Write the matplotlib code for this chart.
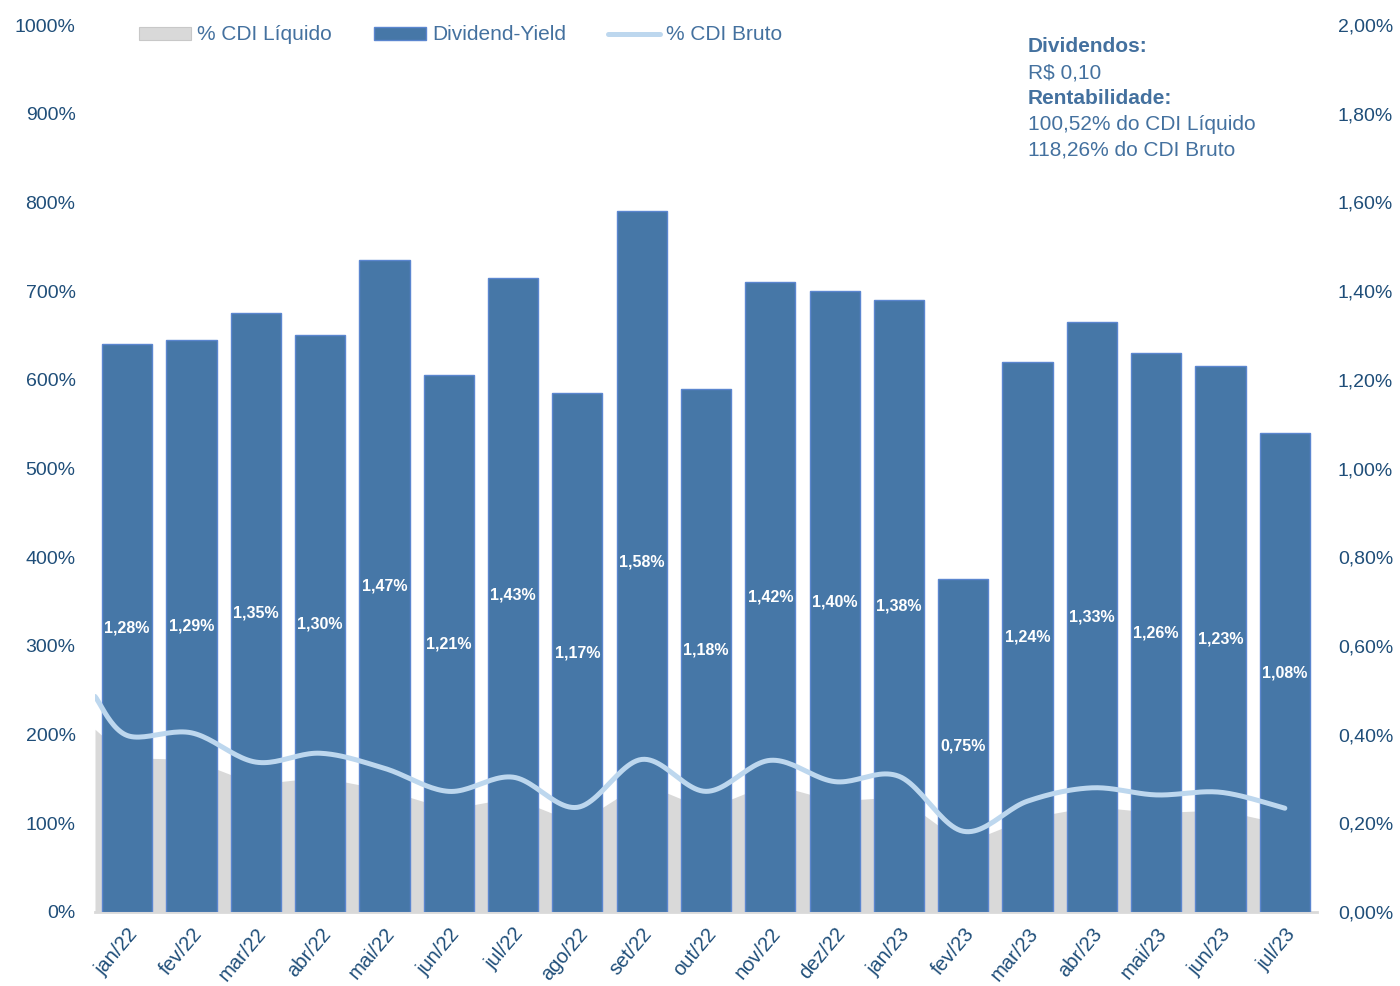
import numpy as np
import matplotlib.pyplot as plt
from matplotlib.patches import Patch
from matplotlib.lines import Line2D

plt.rcParams['font.family'] = ['Liberation Sans', 'DejaVu Sans']

# dados
meses = ['jan/22', 'fev/22', 'mar/22', 'abr/22', 'mai/22', 'jun/22', 'jul/22',
         'ago/22', 'set/22', 'out/22', 'nov/22', 'dez/22', 'jan/23', 'fev/23',
         'mar/23', 'abr/23', 'mai/23', 'jun/23', 'jul/23']
dividend_yield = [1.28, 1.29, 1.35, 1.30, 1.47, 1.21, 1.43, 1.17, 1.58, 1.18,
                  1.42, 1.40, 1.38, 0.75, 1.24, 1.33, 1.26, 1.23, 1.08]
cdi_bruto = [199, 202, 169, 179, 162, 136, 152, 118, 172, 136,
             171, 147, 153, 91, 125, 140, 132, 135, 117]
cdi_bruto_inicio = 243
cdi_liquido = [174, 172, 144, 152, 138, 116, 129, 100, 146, 116,
               145, 125, 130, 77, 106, 119, 112, 115, 99]
cdi_liquido_inicio = 206

cor_barra = '#4677A7'
cor_borda = '#5B86CF'
cor_area = '#D9D9D9'
cor_linha = '#BDD7EE'
cor_tick = '#1F4E79'
cor_texto = '#44719F'


def suavizar(x, y, n=24):
    # curva suave tipo Excel (bezier com tangentes catmull-rom)
    p = np.column_stack([x, y]).astype(float)
    p = np.vstack([p[0], p, p[-1]])
    out = []
    for i in range(1, len(p) - 2):
        p0, p1, p2, p3 = p[i - 1], p[i], p[i + 1], p[i + 2]
        c1 = p1 + (p2 - p0) / 6
        c2 = p2 - (p3 - p1) / 6
        t = np.linspace(0, 1, n)[:, None]
        seg = ((1 - t) ** 3) * p1 + 3 * ((1 - t) ** 2) * t * c1 + 3 * (1 - t) * t ** 2 * c2 + t ** 3 * p2
        out.append(seg if i == 1 else seg[1:])
    out = np.vstack(out)
    return out[:, 0], out[:, 1]


x = np.arange(len(meses))
x_linha = np.concatenate([[-0.5], x])

fig = plt.figure(figsize=(14, 9.86), dpi=100)
ax1 = fig.add_axes([95 / 1400, 74 / 986, 1222 / 1400, 887 / 986])
ax2 = ax1.twinx()
ax3 = ax1.twinx()

# area % CDI Liquido
ax1.fill_between(x_linha, np.concatenate([[cdi_liquido_inicio], cdi_liquido]), 0,
                 color=cor_area, lw=0)
ax1.set_xlim(-0.5, 18.5)
ax1.set_ylim(0, 1000)
ax1.set_yticks(np.arange(0, 1001, 100))
ax1.set_yticklabels([f'{v}%' for v in range(0, 1001, 100)])
ax1.set_xticks(x)
ax1.set_xticklabels(meses, rotation=50, ha='right', va='top', rotation_mode='anchor')
ax1.tick_params(axis='y', length=0, pad=14, labelsize=14, labelcolor=cor_tick)
ax1.tick_params(axis='x', length=0, pad=9, labelsize=14.5, labelcolor=cor_tick)
for s in ['top', 'left', 'right']:
    ax1.spines[s].set_visible(False)
ax1.spines['bottom'].set_color(cor_area)
ax1.spines['bottom'].set_linewidth(2)

# barras Dividend-Yield
barras = ax2.bar(x, dividend_yield, width=0.78, color=cor_barra,
                 edgecolor=cor_borda, linewidth=1)
ax2.bar_label(barras, labels=[f'{v:.2f}%'.replace('.', ',') for v in dividend_yield],
              label_type='center', color='white', fontsize=11.5, fontweight='bold')
ax2.set_ylim(0, 2.0)
ax2.set_yticks(np.arange(0, 2.01, 0.2))
ax2.set_yticklabels([f'{v:.2f}%'.replace('.', ',') for v in np.arange(0, 2.01, 0.2)])
ax2.tick_params(axis='y', length=0, pad=15, labelsize=14, labelcolor=cor_tick)
for s in ax2.spines.values():
    s.set_visible(False)

# linha % CDI Bruto
xs, ys = suavizar(x_linha, np.concatenate([[cdi_bruto_inicio], cdi_bruto]))
ax3.plot(xs, ys, color=cor_linha, lw=3.6, solid_capstyle='round')
ax3.set_ylim(0, 1000)
ax3.set_xlim(-0.5, 18.5)
ax3.axis('off')

# legenda
handles = [Patch(facecolor=cor_area, edgecolor='#C8C8C8', lw=0.8),
           Patch(facecolor=cor_barra, edgecolor=cor_borda, lw=1),
           Line2D([], [], color=cor_linha, lw=3.6, solid_capstyle='round')]
fig.legend(handles, ['% CDI Líquido', 'Dividend-Yield', '% CDI Bruto'],
           loc='center left', bbox_to_anchor=(139 / 1400, 1 - 35 / 986),
           ncol=3, frameon=False, fontsize=15, handlelength=2.5, handleheight=0.6,
           handletextpad=0.3, columnspacing=2.0, borderpad=0, borderaxespad=0,
           labelcolor=cor_texto)

# bloco de texto
linhas = [('Dividendos:', 'bold'), ('R$ 0,10', 'normal'), ('Rentabilidade:', 'bold'),
          ('100,52% do CDI Líquido', 'normal'), ('118,26% do CDI Bruto', 'normal')]
for i, (txt, peso) in enumerate(linhas):
    fig.text(1028 / 1400, 1 - (47 + i * 25.7) / 986, txt, fontsize=15,
             fontweight=peso, color=cor_texto, va='center', ha='left')

fig.savefig('out.png', dpi=100)
